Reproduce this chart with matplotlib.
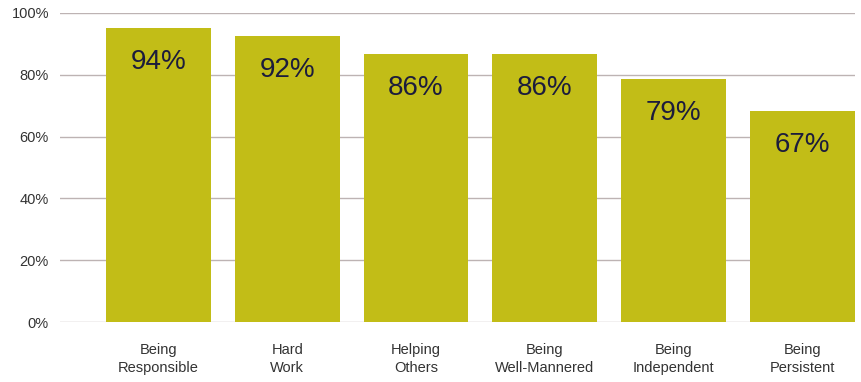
import matplotlib.pyplot as plt
from matplotlib.ticker import FuncFormatter

categories = ["Being\nResponsible", "Hard\nWork", "Helping\nOthers",
              "Being\nWell-Mannered", "Being\nIndependent", "Being\nPersistent"]
# bar heights as drawn in the picture (slightly off the printed labels)
heights = [95.1, 92.6, 86.8, 86.8, 78.7, 68.4]
value_labels = ["94%", "92%", "86%", "86%", "79%", "67%"]
yticks = [0, 20, 40, 60, 80, 100]

plt.rcParams["font.family"] = ["Liberation Sans", "DejaVu Sans"]

fig = plt.figure(figsize=(8.61, 3.82), dpi=100)
ax = fig.add_axes([60 / 861, 1 - 322 / 382, 795 / 861, 309 / 382])

x = list(range(len(categories)))
ax.bar(x, heights, width=0.815, color="#c2bd17", zorder=2)

for xi, h, lab in zip(x, heights, value_labels):
    ax.annotate(lab, (xi, h), xytext=(0, -24.5), textcoords="offset points",
                ha="center", va="center", fontsize=20, color="#1c1c3c",
                zorder=3)

ax.set_ylim(0, 100)
ax.set_xlim(-0.765, 5.41)
ax.set_yticks(yticks)
ax.yaxis.set_major_formatter(FuncFormatter(lambda v, p: f"{v:.0f}%"))
ax.set_xticks(x)
ax.set_xticklabels(categories, linespacing=1.35)
ax.tick_params(axis="y", length=0, pad=8, labelsize=10.5, labelcolor="#333333")
ax.tick_params(axis="x", length=0, pad=15, labelsize=10.5, labelcolor="#333333")
ax.grid(axis="y", color="#bdb3b3", linewidth=1, zorder=1)
for s in ax.spines.values():
    s.set_visible(False)

fig.savefig("out.png", dpi=100)
